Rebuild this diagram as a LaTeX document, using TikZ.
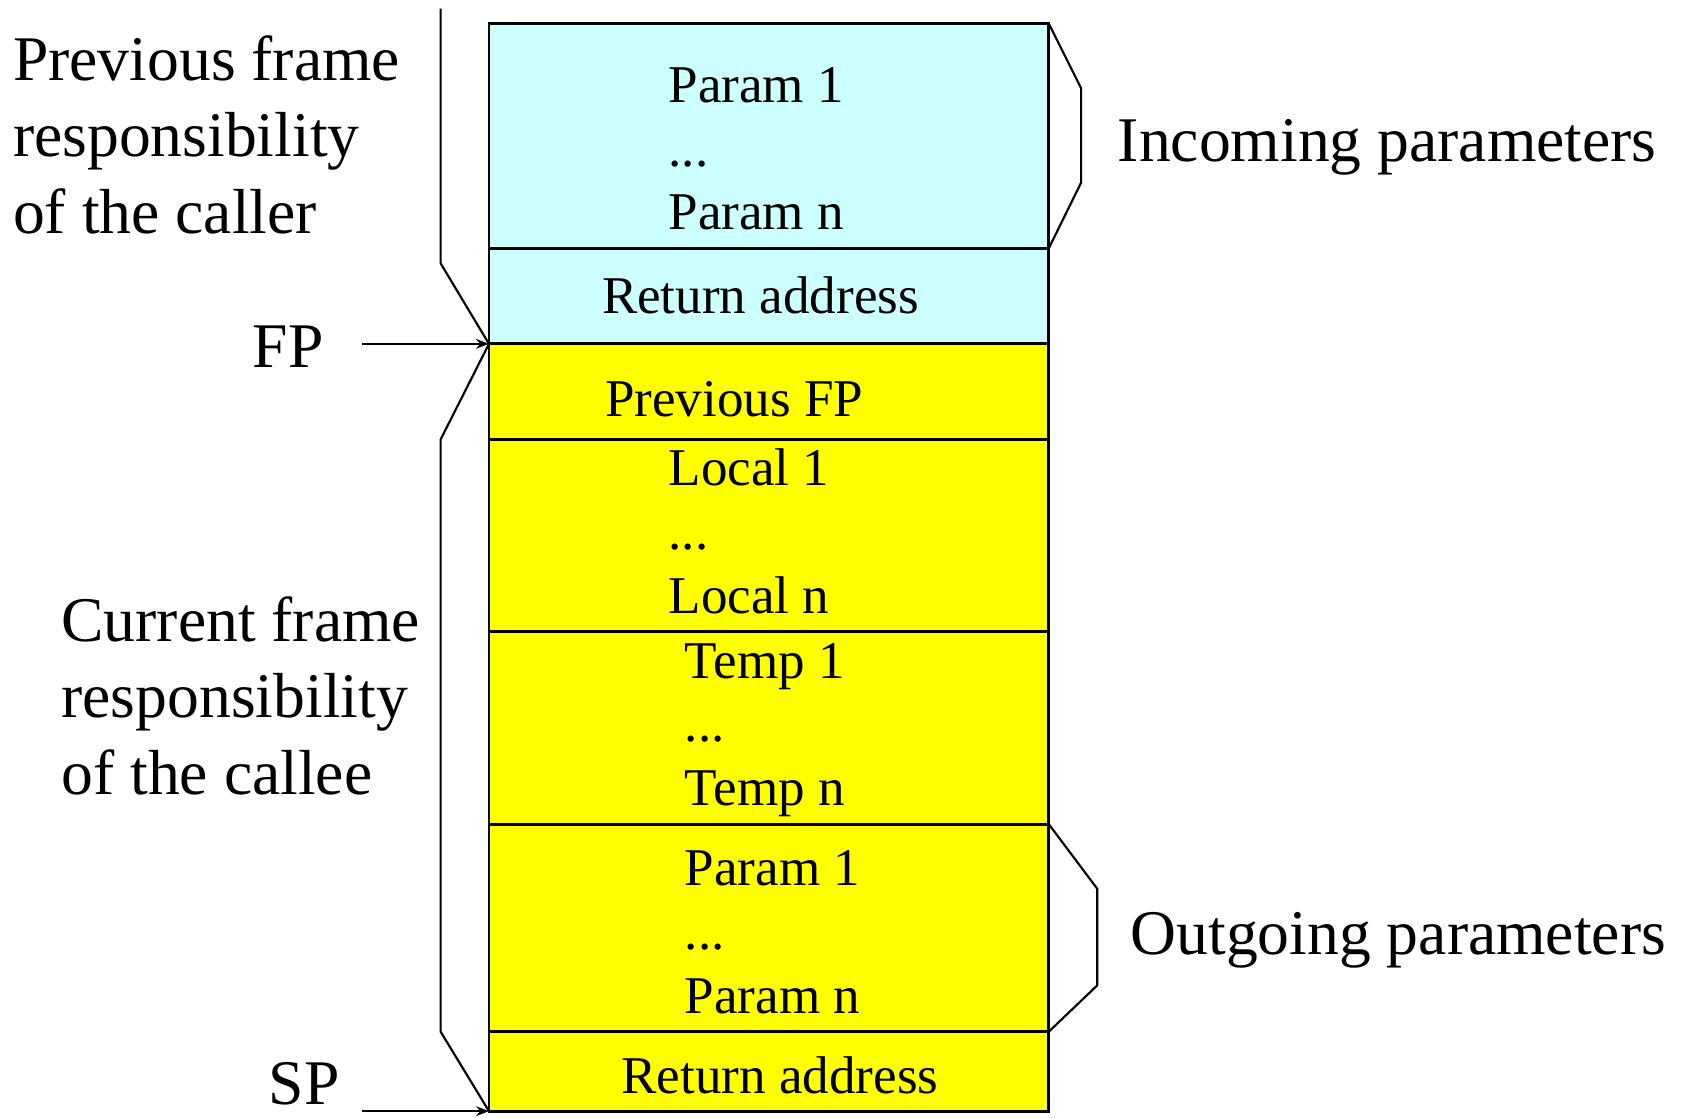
\documentclass[tikz,border=0pt]{standalone}
\usepackage{fontspec}
\setmainfont{Liberation Serif}
\usetikzlibrary{arrows.meta}

\definecolor{callerfill}{HTML}{CCFFFF}
\definecolor{calleefill}{HTML}{FFFF00}

\newcommand{\bigtext}{\fontsize{59.2}{71}\selectfont}
\newcommand{\celltext}{\fontsize{49.4}{60}\selectfont}

\begin{document}
\begin{tikzpicture}[x=1pt,y=-1pt,
  cell/.style={draw=black, line width=2.6pt, inner sep=0pt, outer sep=0pt,
               minimum width=521pt, anchor=north west},
  incell/.style={cell, fill=callerfill},
  outcell/.style={cell, fill=calleefill},
  lbl/.style={anchor=base west, inner sep=0pt, font=\bigtext},
  celllbl/.style={anchor=base west, inner sep=0pt, font=\celltext},
  brace/.style={draw=black, line width=2pt, line join=miter},
  pointer/.style={draw=black, line width=2pt,
                  -{Stealth[length=12pt,width=9pt]}}]

\useasboundingbox (0,0) rectangle (1568,1040);

% stack cells, top to bottom
\node[incell,  minimum height=209pt] (pin)  at (455,22)  {};
\node[incell,  minimum height=89pt]  (ret1) at (455,231) {};
\node[outcell, minimum height=89pt]  (pfp)  at (455,320) {};
\node[outcell, minimum height=179pt] (loc)  at (455,409) {};
\node[outcell, minimum height=179pt] (tmp)  at (455,588) {};
\node[outcell, minimum height=193pt] (pout) at (455,767) {};
\node[outcell, minimum height=74pt]  (ret2) at (455,960) {};

% cell contents
\node[celllbl] (pinA) at (622,95)  {Param 1};
\node[celllbl] (pinB) at (622,155) {...};
\node[celllbl] (pinC) at (622,214) {Param n};
\node[celllbl] (retA) at (560,292) {Return address};
\node[celllbl] (pfpA) at (563,388) {Previous FP};
\node[celllbl] (locA) at (622,452) {Local 1};
\node[celllbl] (locB) at (622,511) {...};
\node[celllbl] (locC) at (622,571) {Local n};
\node[celllbl] (tmpA) at (637,631) {Temp 1};
\node[celllbl] (tmpB) at (637,690) {...};
\node[celllbl] (tmpC) at (637,750) {Temp n};
\node[celllbl] (poA)  at (637,824) {Param 1};
\node[celllbl] (poB)  at (637,884) {...};
\node[celllbl] (poC)  at (637,943) {Param n};
\node[celllbl] (retB) at (578,1018) {Return address};

% frame brackets on the left
\coordinate (callerTop) at (410,8);
\draw[brace] (callerTop) -- (410,245) -- (pfp.north west);
\draw[brace] (pfp.north west) -- (410,409) -- (410,960) -- (ret2.south west);

% parameter brackets on the right
\draw[brace] (pin.north east) -- (1006,82) -- (1006,170) -- (pin.south east);
\draw[brace] (pout.north east) -- (1021,827) -- (1021,917) -- (pout.south east);

% frame and stack pointers
\coordinate (fpTail) at (337,320);
\coordinate (spTail) at (337,1034);
\draw[pointer] (fpTail) -- (pfp.north west);
\draw[pointer] (spTail) -- (ret2.south west);
\node[lbl] (fp) at (235,342) {FP};
\node[lbl] (sp) at (250,1028) {SP};

% side labels
\node[lbl] (prevA) at (12,75)  {Previous frame};
\node[lbl] (prevB) at (12,146) {responsibility};
\node[lbl] (prevC) at (12,217) {of the caller};
\node[lbl] (curA)  at (57,597) {Current frame};
\node[lbl] (curB)  at (57,668) {responsibility};
\node[lbl] (curC)  at (57,739) {of the callee};
\node[lbl] (inc)   at (1040,150) {Incoming parameters};
\node[lbl] (outg)  at (1052,888) {Outgoing parameters};

\end{tikzpicture}
\end{document}
